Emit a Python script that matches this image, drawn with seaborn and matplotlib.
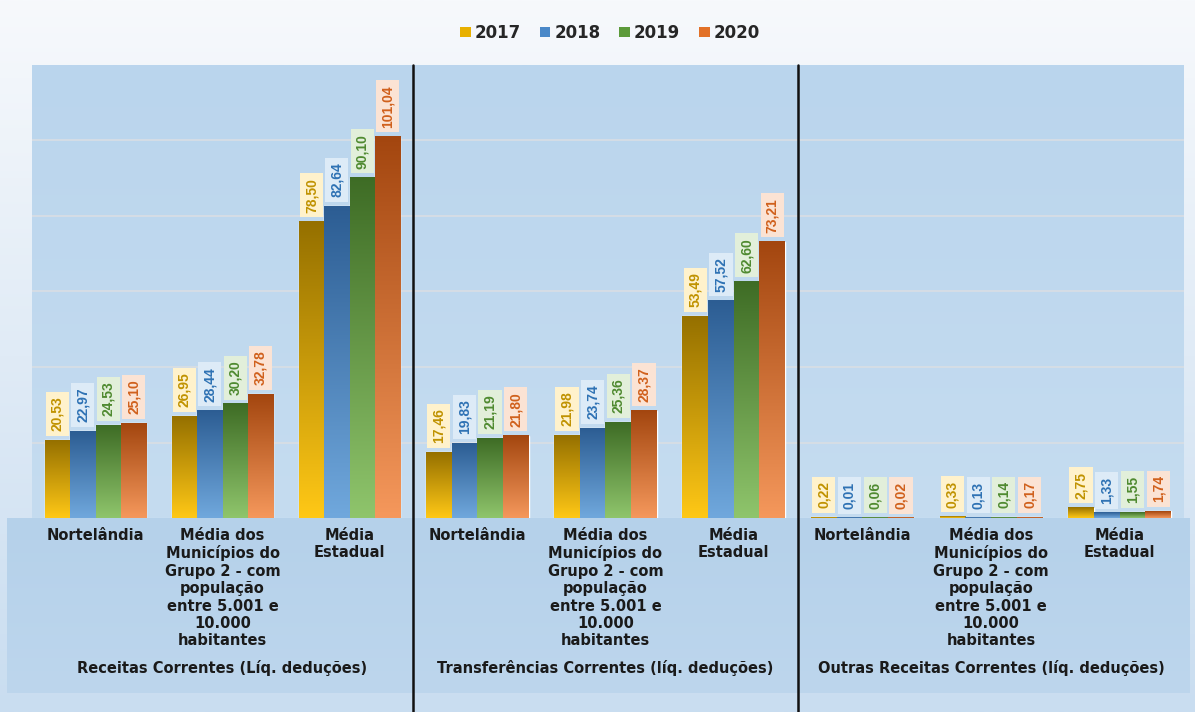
import numpy as np
import pandas as pd
import matplotlib.pyplot as plt
import seaborn as sns
from matplotlib.colors import LinearSegmentedColormap
from matplotlib.patches import Patch
from matplotlib.lines import Line2D

anos = ["2017", "2018", "2019", "2020"]
municipios = ["Nortelândia",
              "Média dos\nMunicípios do\nGrupo 2 - com\npopulação\nentre 5.001 e\n10.000\nhabitantes",
              "Média\nEstadual"]
grupos = ["Receitas Correntes (Líq. deduções)",
          "Transferências Correntes (líq. deduções)",
          "Outras Receitas Correntes (líq. deduções)"]

# one row per municipio, columns 2017..2020
receitas_correntes = [[20.53, 22.97, 24.53, 25.10],
                      [26.95, 28.44, 30.20, 32.78],
                      [78.50, 82.64, 90.10, 101.04]]
transferencias_correntes = [[17.46, 19.83, 21.19, 21.80],
                            [21.98, 23.74, 25.36, 28.37],
                            [53.49, 57.52, 62.60, 73.21]]
outras_receitas = [[0.22, 0.01, 0.06, 0.02],
                   [0.33, 0.13, 0.14, 0.17],
                   [2.75, 1.33, 1.55, 1.74]]

cor_topo = ["#957000", "#2c5d93", "#3e6c25", "#a3460f"]
cor_base = ["#ffc816", "#70a8dd", "#8fc56c", "#f5985c"]
cor_texto = ["#c09200", "#2e72b4", "#4f8a30", "#d0601c"]
cor_caixa = ["#fff2cc", "#ddebf7", "#e2efda", "#fbe3d4"]
cor_legenda = ["#e8b000", "#4a88c8", "#5c9a3a", "#e27128"]

linhas = []
for grupo, tabela in zip(grupos, [receitas_correntes, transferencias_correntes, outras_receitas]):
    for mun, vals in zip(municipios, tabela):
        for ano, v in zip(anos, vals):
            linhas.append({"grupo": grupo, "municipio": mun, "ano": ano, "valor": v})
df = pd.DataFrame(linhas)

sns.set_theme(style="white")
plt.rcParams["font.family"] = ["DejaVu Sans"]

W, H = 1195, 712
fig = plt.figure(figsize=(W / 100, H / 100), dpi=100)

# background, drawn in pixel coordinates
bg = fig.add_axes([0, 0, 1, 1], zorder=-10)
grad = np.linspace(0, 1, 256).reshape(-1, 1)


def faixa(x0, x1, y0, y1, c_cima, c_baixo):
    cmap = LinearSegmentedColormap.from_list("f", [c_cima, c_baixo])
    bg.imshow(grad, cmap=cmap, extent=(x0, x1, y1, y0), aspect="auto")


faixa(0, W, 0, H, "#f7f9fc", "#c9ddf0")
faixa(7, 1190, 518, 693, "#b5d1ea", "#bdd6ed")
faixa(32, 1184, 65, 518, "#bad5ed", "#c5dcf0")
bg.set_xlim(0, W)
bg.set_ylim(H, 0)
bg.axis("off")

bordas = [32, 413, 798, 1184]
base_px, topo_px = 518, 65
centros = []

for i, grupo in enumerate(grupos):
    x0, x1 = bordas[i], bordas[i + 1]
    centros.append((x0 + x1) / 2)
    ax = fig.add_axes([x0 / W, 1 - base_px / H, (x1 - x0) / W, (base_px - topo_px) / H])
    ax.patch.set_alpha(0)
    sns.barplot(data=df[df["grupo"] == grupo], x="municipio", y="valor", hue="ano",
                order=municipios, hue_order=anos, palette=cor_legenda, saturation=1,
                width=0.8, errorbar=None, legend=False, ax=ax)

    for k, cont in enumerate(ax.containers):
        cmap = LinearSegmentedColormap.from_list("b", [cor_base[k], cor_topo[k]])
        for bar, v in zip(cont, cont.datavalues):
            bx, bw = bar.get_x(), bar.get_width()
            ax.imshow(grad, cmap=cmap, origin="lower", aspect="auto",
                      extent=(bx, bx + bw, 0, v), zorder=bar.get_zorder() + 0.1)
            txt = f"{v:.2f}".replace(".", ",")
            ax.annotate(txt, (bx + bw / 2, v), xytext=(0, 9), textcoords="offset pixels",
                        rotation=90, ha="center", va="bottom", fontsize=10,
                        fontweight="bold", family="Liberation Sans", color=cor_texto[k],
                        bbox=dict(boxstyle="square,pad=0.33", fc=cor_caixa[k], ec="none"),
                        zorder=5)

    ax.set_xlim(-0.5, 2.5)
    ax.set_ylim(0, 120)
    ax.set_yticks([20, 40, 60, 80, 100])
    ax.yaxis.grid(True, color="#d9dee4", lw=1.2)
    ax.set_axisbelow(True)
    ax.tick_params(axis="y", left=False, labelleft=False)
    ax.set_xticks(range(len(municipios)))
    ax.set_xticklabels(municipios, fontsize=10.5, fontweight="bold", color="#1a1a1a",
                       linespacing=1.2)
    ax.tick_params(axis="x", length=0, pad=7)
    ax.set_xlabel("")
    ax.set_ylabel("")
    for s in ax.spines.values():
        s.set_visible(False)

for c, grupo in zip(centros, grupos):
    fig.text(c / W, 1 - 668 / H, grupo, ha="center", va="center",
             fontsize=10.5, fontweight="bold", color="#1a1a1a")

for x in bordas[1:3]:
    fig.add_artist(Line2D([x / W, x / W], [0, 1 - topo_px / H], color="#111111", lw=1.8))

alcas = [Patch(facecolor=c, edgecolor="none") for c in cor_legenda]
fig.legend(alcas, anos, loc="center", bbox_to_anchor=(610 / W, 1 - 33 / H), ncol=4,
           frameon=False, prop={"weight": "bold", "size": 12}, handlelength=0.65,
           handleheight=0.5, handletextpad=0.25, columnspacing=1.1)

fig.savefig("out.png", dpi=100)
